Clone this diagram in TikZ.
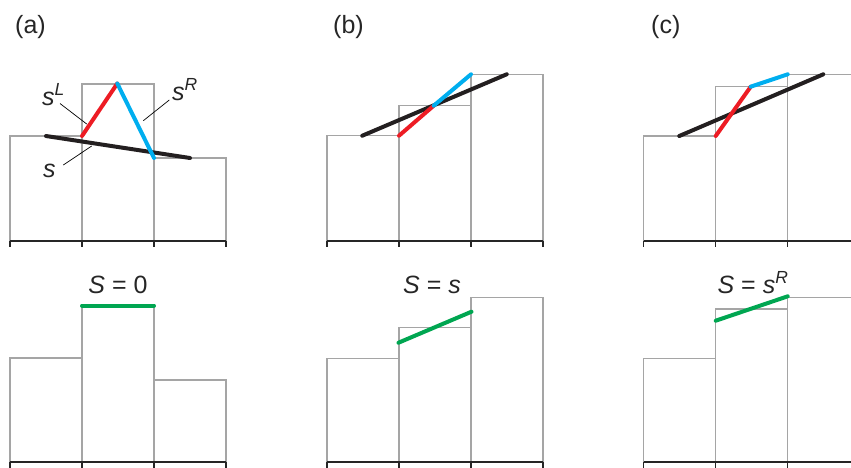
\documentclass[tikz,border=0pt]{standalone}
\usepackage{fontspec}
\setmainfont{Liberation Sans}
\usetikzlibrary{positioning}

\definecolor{segred}{RGB}{237,28,36}
\definecolor{segblue}{RGB}{0,174,239}
\definecolor{avggreen}{RGB}{0,166,81}
\definecolor{bargray}{RGB}{165,165,165}
\definecolor{lineblack}{RGB}{35,31,32}

\begin{document}
\begin{tikzpicture}[
    x=1pt, y=-1pt,
    bar/.style={draw=bargray, line width=1.2pt},
    axis/.style={draw=black!85, line width=1.2pt},
    slope/.style={line width=4pt, line cap=round},
    fitline/.style={slope, lineblack},
    lslope/.style={slope, segred},
    rslope/.style={slope, segblue},
    avg/.style={slope, avggreen},
    leader/.style={draw=black, line width=0.7pt},
    lab/.style={font=\fontsize{25}{29}\selectfont, inner sep=0pt, text=black!85}
]
    \useasboundingbox (0,0) rectangle (851,467);

    % --- Panel (a), top: peak in the middle cell
    \node[lab, anchor=base west] (labA) at (15,33) {(a)};
    \draw[bar] (10,241) rectangle (82,136);
    \draw[bar] (82,241) rectangle (154,84);
    \draw[bar] (154,241) rectangle (226,158);
    \draw[axis] (10,241) -- (226,241);
    \foreach \x in {10,82,154,226} \draw[axis] (\x,241) -- (\x,247);

    \coordinate (aS1) at (46,136);
    \coordinate (aS2) at (190,158);
    \coordinate (aL) at (82,136);
    \coordinate (aM) at (117.3,83.5);
    \coordinate (aR) at (154,158);
    \draw[fitline] (aS1) -- (aS2);
    \draw[lslope] (aL) -- (aM);
    \draw[rslope] (aM) -- (aR);

    \node[lab, anchor=base west] (sL) at (42,105) {\textit{s}\textsuperscript{\textit{L}}};
    \node[lab, anchor=base west] (sR) at (172,100) {\textit{s}\textsuperscript{\textit{R}}};
    \node[lab, anchor=base west] (sA) at (43,177) {\textit{s}};
    \coordinate (sLa) at (60,103.5);
    \coordinate (sLb) at (86.7,124);
    \coordinate (sRa) at (169.3,100);
    \coordinate (sRb) at (143.3,120.7);
    \coordinate (sAa) at (63.3,165);
    \coordinate (sAb) at (91.7,146);
    \draw[leader] (sLa) -- (sLb);
    \draw[leader] (sRa) -- (sRb);
    \draw[leader] (sAa) -- (sAb);

    % --- Panel (a), bottom
    \draw[bar] (10,462) rectangle (82,358);
    \draw[bar] (82,462) rectangle (154,305.5);
    \draw[bar] (154,462) rectangle (226,380);
    \draw[axis] (10,462) -- (226,462);
    \foreach \x in {10,82,154,226} \draw[axis] (\x,462) -- (\x,468);
    \coordinate (ga1) at (82,305.5);
    \coordinate (ga2) at (154,305.5);
    \draw[avg] (ga1) -- (ga2);
    \node[lab, anchor=base] (resA) at (118,293) {\textit{S} = 0};

    % --- Panel (b), top: monotone data
    \node[lab, anchor=base west] (labB) at (333,33) {(b)};
    \draw[bar] (327,241) rectangle (399,135.7);
    \draw[bar] (399,241) rectangle (471,105.7);
    \draw[bar] (471,241) rectangle (543,74.3);
    \draw[axis] (327,241) -- (543,241);
    \foreach \x in {327,399,471,543} \draw[axis] (\x,241) -- (\x,247);

    \coordinate (bS1) at (362.3,135.7);
    \coordinate (bS2) at (506.7,74.3);
    \coordinate (bL) at (399,135.7);
    \coordinate (bM) at (433.7,105.7);
    \coordinate (bR) at (471,74.3);
    \draw[fitline] (bS1) -- (bS2);
    \draw[lslope] (bL) -- (bM);
    \draw[rslope] (bM) -- (bR);

    % --- Panel (b), bottom
    \draw[bar] (327,462) rectangle (399,358.3);
    \draw[bar] (399,462) rectangle (471,327.7);
    \draw[bar] (471,462) rectangle (543,297.3);
    \draw[axis] (327,462) -- (543,462);
    \foreach \x in {327,399,471,543} \draw[axis] (\x,462) -- (\x,468);
    \coordinate (gb1) at (398.5,342.7);
    \coordinate (gb2) at (471.5,311.7);
    \draw[avg] (gb1) -- (gb2);
    \node[lab, anchor=base] (resB) at (432,293) {\textit{S} = \textit{s}};

    % --- Panel (c), top: steep jump on the left
    \node[lab, anchor=base west] (labC) at (651,33) {(c)};
    \draw[bar] (643.5,241) rectangle (715.7,136);
    \draw[bar] (715.7,241) rectangle (787.7,86.7);
    \draw[bar] (787.7,241) rectangle (859.7,74.7);
    \draw[axis] (643.5,241) -- (859.7,241);
    \foreach \x in {643.5,715.7,787.7} \draw[axis] (\x,241) -- (\x,247);

    \coordinate (cS1) at (679.3,136);
    \coordinate (cS2) at (823.3,74.3);
    \coordinate (cL) at (715.7,136);
    \coordinate (cM) at (750.7,86.7);
    \coordinate (cR) at (787.7,74.3);
    \draw[fitline] (cS1) -- (cS2);
    \draw[lslope] (cL) -- (cM);
    \draw[rslope] (cM) -- (cR);

    % --- Panel (c), bottom
    \draw[bar] (643.5,462) rectangle (715.7,358.3);
    \draw[bar] (715.7,462) rectangle (787.7,309);
    \draw[bar] (787.7,462) rectangle (859.7,297.3);
    \draw[axis] (643.5,462) -- (859.7,462);
    \foreach \x in {643.5,715.7,787.7} \draw[axis] (\x,462) -- (\x,468);
    \coordinate (gc1) at (715.7,320.7);
    \coordinate (gc2) at (787.7,296.3);
    \draw[avg] (gc1) -- (gc2);
    \node[lab, anchor=base] (resC) at (753,293) {\textit{S} = \textit{s}\textsuperscript{\textit{R}}};

\end{tikzpicture}
\end{document}
